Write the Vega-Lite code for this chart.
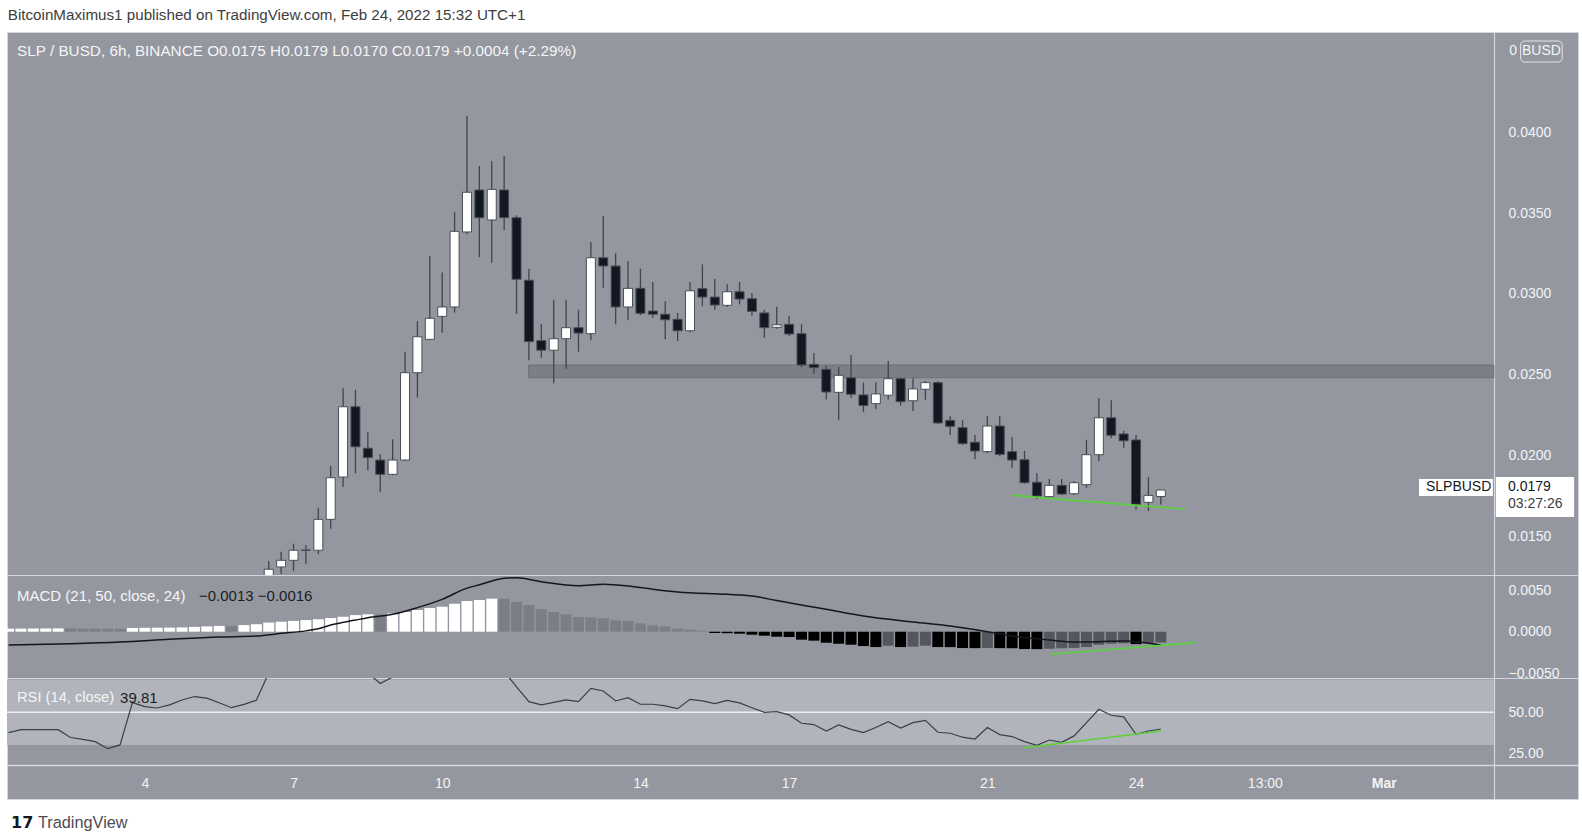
{
  "$schema": "https://vega.github.io/schema/vega-lite/v6.json",
  "background": "#ffffff",
  "padding": {"left": 5, "top": 8, "right": 6, "bottom": 0},
  "title": {"text": "BitcoinMaximus1 published on TradingView.com, Feb 24, 2022 15:32 UTC+1", "anchor": "start", "frame": "bounds", "fontSize": 15.2, "font": "Liberation Sans", "fontWeight": "normal", "color": "#3d3d3d", "offset": 8, "dx": 2},
  "config": {"font": "Liberation Sans", "view": {"fill": "#94979f", "stroke": "#d4d7dd", "strokeWidth": 1}},
  "spacing": 0,
  "bounds": "flush",
  "datasets": {
    "one": [{}],
    "candles": [
      {"t": 6.50, "o": 0.01260, "h": 0.01352, "l": 0.01228, "c": 0.01301},
      {"t": 6.75, "o": 0.01315, "h": 0.01409, "l": 0.01272, "c": 0.01356},
      {"t": 7.00, "o": 0.01356, "h": 0.01459, "l": 0.01290, "c": 0.01418},
      {"t": 7.25, "o": 0.01420, "h": 0.01451, "l": 0.01335, "c": 0.01418},
      {"t": 7.50, "o": 0.01418, "h": 0.01681, "l": 0.01393, "c": 0.01609},
      {"t": 7.75, "o": 0.01609, "h": 0.01938, "l": 0.01551, "c": 0.01866},
      {"t": 8.00, "o": 0.01870, "h": 0.02418, "l": 0.01809, "c": 0.02304},
      {"t": 8.25, "o": 0.02304, "h": 0.02409, "l": 0.01893, "c": 0.02057},
      {"t": 8.50, "o": 0.02048, "h": 0.02148, "l": 0.01912, "c": 0.01990},
      {"t": 8.75, "o": 0.01975, "h": 0.02011, "l": 0.01780, "c": 0.01887},
      {"t": 9.00, "o": 0.01887, "h": 0.02103, "l": 0.01881, "c": 0.01975},
      {"t": 9.25, "o": 0.01975, "h": 0.02644, "l": 0.01969, "c": 0.02514},
      {"t": 9.50, "o": 0.02514, "h": 0.02833, "l": 0.02360, "c": 0.02736},
      {"t": 9.75, "o": 0.02720, "h": 0.03235, "l": 0.02714, "c": 0.02850},
      {"t": 10.00, "o": 0.02862, "h": 0.03132, "l": 0.02761, "c": 0.02920},
      {"t": 10.25, "o": 0.02920, "h": 0.03506, "l": 0.02885, "c": 0.03387},
      {"t": 10.50, "o": 0.03383, "h": 0.04099, "l": 0.03369, "c": 0.03628},
      {"t": 10.75, "o": 0.03642, "h": 0.03790, "l": 0.03228, "c": 0.03471},
      {"t": 11.00, "o": 0.03457, "h": 0.03821, "l": 0.03193, "c": 0.03646},
      {"t": 11.25, "o": 0.03642, "h": 0.03852, "l": 0.03393, "c": 0.03471},
      {"t": 11.50, "o": 0.03471, "h": 0.03486, "l": 0.02878, "c": 0.03091},
      {"t": 11.75, "o": 0.03085, "h": 0.03156, "l": 0.02591, "c": 0.02706},
      {"t": 12.00, "o": 0.02712, "h": 0.02815, "l": 0.02607, "c": 0.02653},
      {"t": 12.25, "o": 0.02653, "h": 0.02965, "l": 0.02449, "c": 0.02724},
      {"t": 12.50, "o": 0.02724, "h": 0.02965, "l": 0.02539, "c": 0.02792},
      {"t": 12.75, "o": 0.02792, "h": 0.02903, "l": 0.02644, "c": 0.02759},
      {"t": 13.00, "o": 0.02755, "h": 0.03321, "l": 0.02714, "c": 0.03224},
      {"t": 13.25, "o": 0.03224, "h": 0.03481, "l": 0.03039, "c": 0.03173},
      {"t": 13.50, "o": 0.03173, "h": 0.03251, "l": 0.02813, "c": 0.02920},
      {"t": 13.75, "o": 0.02920, "h": 0.03202, "l": 0.02838, "c": 0.03035},
      {"t": 14.00, "o": 0.03035, "h": 0.03156, "l": 0.02869, "c": 0.02881},
      {"t": 14.25, "o": 0.02895, "h": 0.03074, "l": 0.02854, "c": 0.02875},
      {"t": 14.50, "o": 0.02875, "h": 0.02955, "l": 0.02720, "c": 0.02841},
      {"t": 14.75, "o": 0.02844, "h": 0.02883, "l": 0.02710, "c": 0.02773},
      {"t": 15.00, "o": 0.02773, "h": 0.03074, "l": 0.02765, "c": 0.03020},
      {"t": 15.25, "o": 0.03033, "h": 0.03183, "l": 0.02924, "c": 0.02981},
      {"t": 15.50, "o": 0.02981, "h": 0.03093, "l": 0.02903, "c": 0.02932},
      {"t": 15.75, "o": 0.02930, "h": 0.03060, "l": 0.02920, "c": 0.03014},
      {"t": 16.00, "o": 0.03014, "h": 0.03074, "l": 0.02936, "c": 0.02969},
      {"t": 16.25, "o": 0.02971, "h": 0.03006, "l": 0.02866, "c": 0.02893},
      {"t": 16.50, "o": 0.02883, "h": 0.02903, "l": 0.02730, "c": 0.02792},
      {"t": 16.75, "o": 0.02794, "h": 0.02921, "l": 0.02786, "c": 0.02810},
      {"t": 17.00, "o": 0.02813, "h": 0.02864, "l": 0.02741, "c": 0.02753},
      {"t": 17.25, "o": 0.02755, "h": 0.02813, "l": 0.02549, "c": 0.02562},
      {"t": 17.50, "o": 0.02566, "h": 0.02636, "l": 0.02508, "c": 0.02545},
      {"t": 17.75, "o": 0.02535, "h": 0.02556, "l": 0.02348, "c": 0.02395},
      {"t": 18.00, "o": 0.02393, "h": 0.02549, "l": 0.02220, "c": 0.02498},
      {"t": 18.25, "o": 0.02483, "h": 0.02623, "l": 0.02360, "c": 0.02381},
      {"t": 18.50, "o": 0.02377, "h": 0.02453, "l": 0.02272, "c": 0.02311},
      {"t": 18.75, "o": 0.02323, "h": 0.02453, "l": 0.02290, "c": 0.02383},
      {"t": 19.00, "o": 0.02375, "h": 0.02586, "l": 0.02348, "c": 0.02477},
      {"t": 19.25, "o": 0.02477, "h": 0.02483, "l": 0.02309, "c": 0.02335},
      {"t": 19.50, "o": 0.02341, "h": 0.02480, "l": 0.02278, "c": 0.02414},
      {"t": 19.75, "o": 0.02412, "h": 0.02463, "l": 0.02348, "c": 0.02453},
      {"t": 20.00, "o": 0.02453, "h": 0.02463, "l": 0.02198, "c": 0.02204},
      {"t": 20.25, "o": 0.02220, "h": 0.02245, "l": 0.02130, "c": 0.02183},
      {"t": 20.50, "o": 0.02175, "h": 0.02220, "l": 0.02068, "c": 0.02076},
      {"t": 20.75, "o": 0.02085, "h": 0.02130, "l": 0.01980, "c": 0.02031},
      {"t": 21.00, "o": 0.02027, "h": 0.02247, "l": 0.02019, "c": 0.02185},
      {"t": 21.25, "o": 0.02185, "h": 0.02247, "l": 0.01998, "c": 0.02010},
      {"t": 21.50, "o": 0.02027, "h": 0.02117, "l": 0.01928, "c": 0.01975},
      {"t": 21.75, "o": 0.01977, "h": 0.02031, "l": 0.01829, "c": 0.01835},
      {"t": 22.00, "o": 0.01838, "h": 0.01895, "l": 0.01733, "c": 0.01753},
      {"t": 22.25, "o": 0.01749, "h": 0.01858, "l": 0.01743, "c": 0.01819},
      {"t": 22.50, "o": 0.01819, "h": 0.01858, "l": 0.01759, "c": 0.01765},
      {"t": 22.75, "o": 0.01767, "h": 0.01846, "l": 0.01759, "c": 0.01835},
      {"t": 23.00, "o": 0.01823, "h": 0.02099, "l": 0.01804, "c": 0.02008},
      {"t": 23.25, "o": 0.02008, "h": 0.02356, "l": 0.01969, "c": 0.02236},
      {"t": 23.50, "o": 0.02236, "h": 0.02344, "l": 0.02109, "c": 0.02128},
      {"t": 23.75, "o": 0.02136, "h": 0.02156, "l": 0.02051, "c": 0.02094},
      {"t": 24.00, "o": 0.02099, "h": 0.02130, "l": 0.01669, "c": 0.01702},
      {"t": 24.25, "o": 0.01714, "h": 0.01870, "l": 0.01660, "c": 0.01757},
      {"t": 24.50, "o": 0.01750, "h": 0.01790, "l": 0.01700, "c": 0.01790}
    ],
    "hist": [
      {"t": 1.25, "hist": 0.00036, "kind": "up"}, {"t": 1.50, "hist": 0.00037, "kind": "up"}, {"t": 1.75, "hist": 0.00038, "kind": "up"}, {"t": 2.00, "hist": 0.00039, "kind": "up"}, {"t": 2.25, "hist": 0.00040, "kind": "up"},
      {"t": 2.50, "hist": 0.00039, "kind": "upfall"}, {"t": 2.75, "hist": 0.00038, "kind": "upfall"}, {"t": 3.00, "hist": 0.00037, "kind": "upfall"}, {"t": 3.25, "hist": 0.00036, "kind": "upfall"}, {"t": 3.50, "hist": 0.00035, "kind": "upfall"},
      {"t": 3.75, "hist": 0.00045, "kind": "up"}, {"t": 4.00, "hist": 0.00047, "kind": "up"}, {"t": 4.25, "hist": 0.00048, "kind": "up"}, {"t": 4.50, "hist": 0.00049, "kind": "up"}, {"t": 4.75, "hist": 0.00052, "kind": "up"},
      {"t": 5.00, "hist": 0.00058, "kind": "up"}, {"t": 5.25, "hist": 0.00064, "kind": "up"}, {"t": 5.50, "hist": 0.00070, "kind": "up"}, {"t": 5.75, "hist": 0.00066, "kind": "upfall"}, {"t": 6.00, "hist": 0.00080, "kind": "up"},
      {"t": 6.25, "hist": 0.00090, "kind": "up"}, {"t": 6.50, "hist": 0.00110, "kind": "up"}, {"t": 6.75, "hist": 0.00120, "kind": "up"}, {"t": 7.00, "hist": 0.00130, "kind": "up"}, {"t": 7.25, "hist": 0.00140, "kind": "up"},
      {"t": 7.50, "hist": 0.00150, "kind": "up"}, {"t": 7.75, "hist": 0.00165, "kind": "up"}, {"t": 8.00, "hist": 0.00180, "kind": "up"}, {"t": 8.25, "hist": 0.00200, "kind": "up"}, {"t": 8.50, "hist": 0.00210, "kind": "up"},
      {"t": 8.75, "hist": 0.00208, "kind": "upfall"}, {"t": 9.00, "hist": 0.00220, "kind": "up"}, {"t": 9.25, "hist": 0.00237, "kind": "up"}, {"t": 9.50, "hist": 0.00261, "kind": "up"}, {"t": 9.75, "hist": 0.00285, "kind": "up"},
      {"t": 10.00, "hist": 0.00301, "kind": "up"}, {"t": 10.25, "hist": 0.00337, "kind": "up"}, {"t": 10.50, "hist": 0.00370, "kind": "up"}, {"t": 10.75, "hist": 0.00382, "kind": "up"}, {"t": 11.00, "hist": 0.00398, "kind": "up"},
      {"t": 11.25, "hist": 0.00396, "kind": "upfall"}, {"t": 11.50, "hist": 0.00358, "kind": "upfall"}, {"t": 11.75, "hist": 0.00321, "kind": "upfall"}, {"t": 12.00, "hist": 0.00273, "kind": "upfall"}, {"t": 12.25, "hist": 0.00237, "kind": "upfall"},
      {"t": 12.50, "hist": 0.00209, "kind": "upfall"}, {"t": 12.75, "hist": 0.00177, "kind": "upfall"}, {"t": 13.00, "hist": 0.00174, "kind": "upfall"}, {"t": 13.25, "hist": 0.00161, "kind": "upfall"}, {"t": 13.50, "hist": 0.00137, "kind": "upfall"},
      {"t": 13.75, "hist": 0.00129, "kind": "upfall"}, {"t": 14.00, "hist": 0.00100, "kind": "upfall"}, {"t": 14.25, "hist": 0.00076, "kind": "upfall"}, {"t": 14.50, "hist": 0.00064, "kind": "upfall"}, {"t": 14.75, "hist": 0.00036, "kind": "upfall"},
      {"t": 15.00, "hist": 0.00024, "kind": "upfall"}, {"t": 15.25, "hist": 0.00012, "kind": "upfall"}, {"t": 15.50, "hist": -0.00016, "kind": "down"}, {"t": 15.75, "hist": -0.00018, "kind": "down"}, {"t": 16.00, "hist": -0.00024, "kind": "down"},
      {"t": 16.25, "hist": -0.00036, "kind": "down"}, {"t": 16.50, "hist": -0.00048, "kind": "down"}, {"t": 16.75, "hist": -0.00060, "kind": "down"}, {"t": 17.00, "hist": -0.00064, "kind": "down"}, {"t": 17.25, "hist": -0.00096, "kind": "down"},
      {"t": 17.50, "hist": -0.00108, "kind": "down"}, {"t": 17.75, "hist": -0.00133, "kind": "down"}, {"t": 18.00, "hist": -0.00145, "kind": "down"}, {"t": 18.25, "hist": -0.00157, "kind": "down"}, {"t": 18.50, "hist": -0.00173, "kind": "down"},
      {"t": 18.75, "hist": -0.00185, "kind": "down"}, {"t": 19.00, "hist": -0.00169, "kind": "downrise"}, {"t": 19.25, "hist": -0.00185, "kind": "down"}, {"t": 19.50, "hist": -0.00180, "kind": "downrise"}, {"t": 19.75, "hist": -0.00169, "kind": "downrise"},
      {"t": 20.00, "hist": -0.00185, "kind": "down"}, {"t": 20.25, "hist": -0.00186, "kind": "down"}, {"t": 20.50, "hist": -0.00197, "kind": "down"}, {"t": 20.75, "hist": -0.00198, "kind": "down"}, {"t": 21.00, "hist": -0.00196, "kind": "downrise"},
      {"t": 21.25, "hist": -0.00198, "kind": "down"}, {"t": 21.50, "hist": -0.00199, "kind": "down"}, {"t": 21.75, "hist": -0.00209, "kind": "down"}, {"t": 22.00, "hist": -0.00210, "kind": "down"}, {"t": 22.25, "hist": -0.00205, "kind": "downrise"},
      {"t": 22.50, "hist": -0.00200, "kind": "downrise"}, {"t": 22.75, "hist": -0.00195, "kind": "downrise"}, {"t": 23.00, "hist": -0.00185, "kind": "downrise"}, {"t": 23.25, "hist": -0.00157, "kind": "downrise"}, {"t": 23.50, "hist": -0.00145, "kind": "downrise"},
      {"t": 23.75, "hist": -0.00140, "kind": "downrise"}, {"t": 24.00, "hist": -0.00150, "kind": "down"}, {"t": 24.25, "hist": -0.00140, "kind": "downrise"}, {"t": 24.50, "hist": -0.00130, "kind": "downrise"}
    ],
    "macd": [
      {"t": 1.25, "v": -0.00160}, {"t": 2.50, "v": -0.00144}, {"t": 3.50, "v": -0.00124}, {"t": 4.50, "v": -0.00092}, {"t": 5.50, "v": -0.00064},
      {"t": 6.25, "v": -0.00052}, {"t": 6.75, "v": -0.00020}, {"t": 7.25, "v": 0.00010}, {"t": 7.50, "v": 0.00035}, {"t": 7.75, "v": 0.00080},
      {"t": 8.25, "v": 0.00140}, {"t": 8.50, "v": 0.00169}, {"t": 9.00, "v": 0.00209}, {"t": 9.50, "v": 0.00290}, {"t": 10.00, "v": 0.00390},
      {"t": 10.50, "v": 0.00525}, {"t": 10.75, "v": 0.00565}, {"t": 11.25, "v": 0.00645}, {"t": 11.50, "v": 0.00651}, {"t": 12.00, "v": 0.00603},
      {"t": 12.75, "v": 0.00555}, {"t": 13.25, "v": 0.00571}, {"t": 13.75, "v": 0.00551}, {"t": 14.25, "v": 0.00511}, {"t": 14.75, "v": 0.00478},
      {"t": 15.75, "v": 0.00450}, {"t": 16.25, "v": 0.00430}, {"t": 16.75, "v": 0.00375}, {"t": 17.75, "v": 0.00270}, {"t": 18.50, "v": 0.00189},
      {"t": 19.50, "v": 0.00117}, {"t": 20.25, "v": 0.00069}, {"t": 21.00, "v": 0.00000}, {"t": 21.50, "v": -0.00052}, {"t": 22.25, "v": -0.00100},
      {"t": 22.75, "v": -0.00124}, {"t": 23.25, "v": -0.00120}, {"t": 23.75, "v": -0.00112}, {"t": 24.50, "v": -0.00160}
    ],
    "rsi": [
      {"t": 1.25, "v": 37.6}, {"t": 1.50, "v": 39.4}, {"t": 1.75, "v": 39.4}, {"t": 2.00, "v": 39.4}, {"t": 2.25, "v": 39.4},
      {"t": 2.50, "v": 34.6}, {"t": 2.75, "v": 33.5}, {"t": 3.00, "v": 32.1}, {"t": 3.25, "v": 27.8}, {"t": 3.50, "v": 30.1},
      {"t": 3.75, "v": 55.9}, {"t": 4.00, "v": 53.5}, {"t": 4.25, "v": 52.6}, {"t": 4.50, "v": 54.5}, {"t": 4.75, "v": 57.5},
      {"t": 5.00, "v": 59.6}, {"t": 5.25, "v": 58.6}, {"t": 5.50, "v": 55.8}, {"t": 5.75, "v": 52.8}, {"t": 6.00, "v": 54.8},
      {"t": 6.25, "v": 57.3}, {"t": 6.50, "v": 74.0}, {"t": 6.75, "v": 78.0}, {"t": 7.00, "v": 81.0}, {"t": 7.25, "v": 80.0},
      {"t": 7.50, "v": 84.0}, {"t": 7.75, "v": 87.0}, {"t": 8.00, "v": 84.0}, {"t": 8.25, "v": 80.0}, {"t": 8.50, "v": 74.0},
      {"t": 8.75, "v": 67.5}, {"t": 9.00, "v": 71.5}, {"t": 9.25, "v": 78.0}, {"t": 9.50, "v": 80.0}, {"t": 9.75, "v": 81.0},
      {"t": 10.00, "v": 82.0}, {"t": 10.25, "v": 85.0}, {"t": 10.50, "v": 86.0}, {"t": 10.75, "v": 82.0}, {"t": 11.00, "v": 83.0},
      {"t": 11.25, "v": 75.0}, {"t": 11.50, "v": 65.5}, {"t": 11.75, "v": 56.5}, {"t": 12.00, "v": 54.5}, {"t": 12.25, "v": 56.0},
      {"t": 12.50, "v": 57.5}, {"t": 12.75, "v": 56.5}, {"t": 13.00, "v": 64.6}, {"t": 13.25, "v": 63.0}, {"t": 13.50, "v": 56.9},
      {"t": 13.75, "v": 58.9}, {"t": 14.00, "v": 54.9}, {"t": 14.25, "v": 54.9}, {"t": 14.50, "v": 53.9}, {"t": 14.75, "v": 52.2},
      {"t": 15.00, "v": 57.9}, {"t": 15.25, "v": 56.9}, {"t": 15.50, "v": 55.3}, {"t": 15.75, "v": 57.3}, {"t": 16.00, "v": 55.7},
      {"t": 16.25, "v": 52.8}, {"t": 16.50, "v": 50.0}, {"t": 16.75, "v": 50.4}, {"t": 17.00, "v": 48.4}, {"t": 17.25, "v": 43.3},
      {"t": 17.50, "v": 42.5}, {"t": 17.75, "v": 38.6}, {"t": 18.00, "v": 42.3}, {"t": 18.25, "v": 39.6}, {"t": 18.50, "v": 37.6},
      {"t": 18.75, "v": 40.7}, {"t": 19.00, "v": 44.3}, {"t": 19.25, "v": 40.4}, {"t": 19.50, "v": 43.7}, {"t": 19.75, "v": 45.1},
      {"t": 20.00, "v": 37.8}, {"t": 20.25, "v": 37.2}, {"t": 20.50, "v": 34.8}, {"t": 20.75, "v": 33.7}, {"t": 21.00, "v": 40.7},
      {"t": 21.25, "v": 36.4}, {"t": 21.50, "v": 35.2}, {"t": 21.75, "v": 32.1}, {"t": 22.00, "v": 29.9}, {"t": 22.25, "v": 33.1},
      {"t": 22.50, "v": 31.7}, {"t": 22.75, "v": 35.6}, {"t": 23.00, "v": 43.7}, {"t": 23.25, "v": 51.8}, {"t": 23.50, "v": 48.2},
      {"t": 23.75, "v": 47.2}, {"t": 24.00, "v": 36.6}, {"t": 24.25, "v": 38.6}, {"t": 24.50, "v": 39.81}
    ],
    "greenPrice": [{"t": 21.497, "v": 0.017574}, {"t": 25.0, "v": 0.016710}],
    "greenMacd": [{"t": 22.27, "v": -0.00272}, {"t": 25.2, "v": -0.00132}],
    "greenRsi": [{"t": 21.75, "v": 28.4}, {"t": 24.503, "v": 38.6}]
  },
  "vconcat": [
    {
      "width": 1571,
      "height": 543,
      "layer": [
        {
          "data": {"name": "one"},
          "mark": {"type": "rect", "fill": "#7c7f87", "stroke": "#6d7078", "strokeWidth": 1},
          "encoding": {
            "x": {"datum": 11.745, "type": "quantitative", "axis": null},
            "x2": {"datum": 31.22},
            "y": {"datum": 0.025617, "type": "quantitative"},
            "y2": {"datum": 0.024833}
          }
        },
        {
          "data": {"name": "candles"},
          "mark": {"type": "rule", "color": "#41444c", "strokeWidth": 1.3, "clip": true},
          "encoding": {
            "x": {"field": "t", "type": "quantitative", "scale": {"domain": [1.2187, 32.918], "nice": false, "zero": false, "padding": 0}, "axis": null},
            "y": {"field": "l", "type": "quantitative", "scale": {"domain": [0.012654, 0.046173], "nice": false, "zero": false},
                  "axis": {"orient": "right", "offset": -84, "values": [0.015, 0.02, 0.025, 0.03, 0.035, 0.04], "format": ".4f", "ticks": false, "grid": false, "title": null, "domainColor": "#d4d7dd", "domainWidth": 1.2, "labelColor": "#f3f4f6", "labelFontSize": 14, "labelPadding": 14}},
            "y2": {"field": "h"}
          }
        },
        {
          "data": {"name": "candles"},
          "mark": {"type": "bar", "size": 9, "stroke": "#4b4e56", "strokeWidth": 1, "clip": true},
          "encoding": {
            "x": {"field": "t", "type": "quantitative", "axis": null},
            "y": {"field": "o", "type": "quantitative"},
            "y2": {"field": "c"},
            "fill": {"condition": {"test": "datum.c >= datum.o", "value": "#ffffff"}, "value": "#131722"}
          }
        },
        {
          "data": {"name": "greenPrice"},
          "mark": {"type": "line", "color": "#5ad33b", "strokeWidth": 1.6},
          "encoding": {
            "x": {"field": "t", "type": "quantitative", "axis": null},
            "y": {"field": "v", "type": "quantitative"}
          }
        },
        {
          "data": {"name": "one"},
          "mark": {"type": "text", "align": "left", "baseline": "middle", "fontSize": 15.3, "color": "#f4f5f7"},
          "encoding": {
            "x": {"datum": 1.4205, "type": "quantitative", "axis": null},
            "y": {"datum": 0.045, "type": "quantitative"},
            "text": {"value": "SLP / BUSD, 6h, BINANCE  O0.0175  H0.0179  L0.0170  C0.0179  +0.0004 (+2.29%)"}
          }
        },
        {
          "data": {"name": "one"},
          "mark": {"type": "rect", "fill": "transparent", "stroke": "#e2e5ea", "strokeWidth": 1, "cornerRadius": 4},
          "encoding": {
            "x": {"datum": 31.76, "type": "quantitative", "axis": null},
            "x2": {"datum": 32.6},
            "y": {"datum": 0.045617, "type": "quantitative"},
            "y2": {"datum": 0.04432}
          }
        },
        {
          "data": {"name": "one"},
          "mark": {"type": "text", "align": "center", "baseline": "middle", "fontSize": 14, "color": "#f3f4f6"},
          "encoding": {
            "x": {"datum": 32.18, "type": "quantitative", "axis": null},
            "y": {"datum": 0.045, "type": "quantitative"},
            "text": {"value": "BUSD"}
          }
        },
        {
          "data": {"name": "one"},
          "mark": {"type": "text", "align": "left", "baseline": "middle", "fontSize": 14, "color": "#f3f4f6"},
          "encoding": {
            "x": {"datum": 31.53, "type": "quantitative", "axis": null},
            "y": {"datum": 0.045, "type": "quantitative"},
            "text": {"value": "0"}
          }
        },
        {
          "data": {"name": "one"},
          "mark": {"type": "rect", "fill": "#ffffff"},
          "encoding": {
            "x": {"datum": 29.71, "type": "quantitative", "axis": null},
            "x2": {"datum": 31.2},
            "y": {"datum": 0.01858, "type": "quantitative"},
            "y2": {"datum": 0.017531}
          }
        },
        {
          "data": {"name": "one"},
          "mark": {"type": "rect", "fill": "#ffffff"},
          "encoding": {
            "x": {"datum": 31.26, "type": "quantitative", "axis": null},
            "x2": {"datum": 32.84},
            "y": {"datum": 0.018704, "type": "quantitative"},
            "y2": {"datum": 0.016235}
          }
        },
        {
          "data": {"name": "one"},
          "mark": {"type": "text", "align": "left", "baseline": "middle", "fontSize": 14, "color": "#131722"},
          "encoding": {
            "x": {"datum": 29.85, "type": "quantitative", "axis": null},
            "y": {"datum": 0.018056, "type": "quantitative"},
            "text": {"value": "SLPBUSD"}
          }
        },
        {
          "data": {"name": "one"},
          "mark": {"type": "text", "align": "left", "baseline": "middle", "fontSize": 14, "color": "#131722"},
          "encoding": {
            "x": {"datum": 31.505, "type": "quantitative", "axis": null},
            "y": {"datum": 0.018086, "type": "quantitative"},
            "text": {"value": "0.0179"}
          }
        },
        {
          "data": {"name": "one"},
          "mark": {"type": "text", "align": "left", "baseline": "middle", "fontSize": 14, "color": "#3a3d45"},
          "encoding": {
            "x": {"datum": 31.505, "type": "quantitative", "axis": null},
            "y": {"datum": 0.017037, "type": "quantitative"},
            "text": {"value": "03:27:26"}
          }
        }
      ]
    },
    {
      "width": 1571,
      "height": 103,
      "layer": [
        {
          "data": {"name": "hist"},
          "mark": {"type": "bar", "size": 11, "clip": true},
          "encoding": {
            "x": {"field": "t", "type": "quantitative", "scale": {"domain": [1.2187, 32.918], "nice": false, "zero": false, "padding": 0}, "axis": null},
            "y": {"field": "hist", "type": "quantitative", "scale": {"domain": [-0.005578, 0.006831], "nice": false, "zero": false},
                  "axis": {"orient": "right", "offset": -84, "values": [-0.005, 0, 0.005], "format": ".4f", "ticks": false, "grid": false, "title": null, "domainColor": "#d4d7dd", "domainWidth": 1.2, "labelColor": "#f3f4f6", "labelFontSize": 14, "labelPadding": 14}},
            "y2": {"datum": 0},
            "fill": {"field": "kind", "type": "nominal", "scale": {"domain": ["up", "upfall", "down", "downrise"], "range": ["#ffffff", "#7b7e87", "#000000", "#55575e"]}, "legend": null}
          }
        },
        {
          "data": {"name": "macd"},
          "mark": {"type": "line", "color": "#15171c", "strokeWidth": 1.5, "interpolate": "monotone", "clip": true},
          "encoding": {
            "x": {"field": "t", "type": "quantitative", "axis": null},
            "y": {"field": "v", "type": "quantitative"}
          }
        },
        {
          "data": {"name": "greenMacd"},
          "mark": {"type": "line", "color": "#5ad33b", "strokeWidth": 1.6},
          "encoding": {
            "x": {"field": "t", "type": "quantitative", "axis": null},
            "y": {"field": "v", "type": "quantitative"}
          }
        },
        {
          "data": {"name": "one"},
          "mark": {"type": "text", "align": "left", "baseline": "middle", "fontSize": 15, "color": "#f4f5f7"},
          "encoding": {
            "x": {"datum": 1.4205, "type": "quantitative", "axis": null},
            "y": {"datum": 0.0043, "type": "quantitative"},
            "text": {"value": "MACD (21, 50, close, 24)"}
          }
        },
        {
          "data": {"name": "one"},
          "mark": {"type": "text", "align": "left", "baseline": "middle", "fontSize": 15, "color": "#1c1e23"},
          "encoding": {
            "x": {"datum": 5.093, "type": "quantitative", "axis": null},
            "y": {"datum": 0.0043, "type": "quantitative"},
            "text": {"value": "\u22120.0013  \u22120.0016"}
          }
        }
      ]
    },
    {
      "width": 1571,
      "height": 121,
      "layer": [
        {
          "data": {"name": "one"},
          "mark": {"type": "rect", "fill": "#b1b4bb"},
          "encoding": {
            "x": {"datum": 1.2187, "type": "quantitative"},
            "x2": {"datum": 31.22},
            "y": {"datum": 30, "type": "quantitative"},
            "y2": {"datum": 70}
          }
        },
        {
          "data": {"name": "one"},
          "mark": {"type": "rule", "color": "#eceef2", "strokeWidth": 1.5},
          "encoding": {
            "x": {"datum": 1.2187, "type": "quantitative"},
            "x2": {"datum": 31.22},
            "y": {"datum": 50, "type": "quantitative"}
          }
        },
        {
          "data": {"name": "rsi"},
          "mark": {"type": "line", "color": "#3b3e45", "strokeWidth": 1.2, "clip": true},
          "encoding": {
            "x": {"field": "t", "type": "quantitative", "scale": {"domain": [1.2187, 32.918], "nice": false, "zero": false, "padding": 0},
                  "axis": {"orient": "bottom", "offset": -34, "values": [4, 7, 10, 14, 17, 21, 24, 26.6, 29], "labelExpr": "datum.value < 25 ? format(datum.value, 'd') : (datum.value < 28 ? '13:00' : 'Mar')", "labelFontWeight": {"condition": {"test": "datum.value > 28", "value": "bold"}, "value": "normal"}, "ticks": false, "grid": false, "title": null, "domainColor": "#d4d7dd", "domainWidth": 1.5, "labelColor": "#f3f4f6", "labelFontSize": 14, "labelPadding": 11, "labelOverlap": false, "labelFlush": false}},
            "y": {"field": "v", "type": "quantitative", "scale": {"domain": [-2.87, 70.9], "nice": false, "zero": false},
                  "axis": {"orient": "right", "offset": -84, "values": [25, 50], "format": ".2f", "ticks": false, "grid": false, "title": null, "domainColor": "#d4d7dd", "domainWidth": 1.2, "labelColor": "#f3f4f6", "labelFontSize": 14, "labelPadding": 14}}
          }
        },
        {
          "data": {"name": "greenRsi"},
          "mark": {"type": "line", "color": "#5ad33b", "strokeWidth": 1.6},
          "encoding": {
            "x": {"field": "t", "type": "quantitative"},
            "y": {"field": "v", "type": "quantitative"}
          }
        },
        {
          "data": {"name": "one"},
          "mark": {"type": "text", "align": "left", "baseline": "middle", "fontSize": 14.7, "color": "#f4f5f7"},
          "encoding": {
            "x": {"datum": 1.4205, "type": "quantitative"},
            "y": {"datum": 58.7, "type": "quantitative"},
            "text": {"value": "RSI (14, close)"}
          }
        },
        {
          "data": {"name": "one"},
          "mark": {"type": "text", "align": "left", "baseline": "middle", "fontSize": 15, "color": "#1c1e23"},
          "encoding": {
            "x": {"datum": 3.5, "type": "quantitative"},
            "y": {"datum": 58.7, "type": "quantitative"},
            "text": {"value": "39.81"}
          }
        },
        {
          "data": {"name": "one"},
          "mark": {"type": "text", "align": "left", "baseline": "middle", "fontSize": 16, "fontWeight": "bold", "font": "DejaVu Sans", "color": "#131722"},
          "encoding": {
            "x": {"datum": 1.3, "type": "quantitative"},
            "y": {"datum": -17.5, "type": "quantitative"},
            "text": {"value": "17"}
          }
        },
        {
          "data": {"name": "one"},
          "mark": {"type": "text", "align": "left", "baseline": "middle", "fontSize": 16.3, "color": "#4a4c53"},
          "encoding": {
            "x": {"datum": 1.844, "type": "quantitative"},
            "y": {"datum": -17.5, "type": "quantitative"},
            "text": {"value": "TradingView"}
          }
        }
      ]
    }
  ]
}
